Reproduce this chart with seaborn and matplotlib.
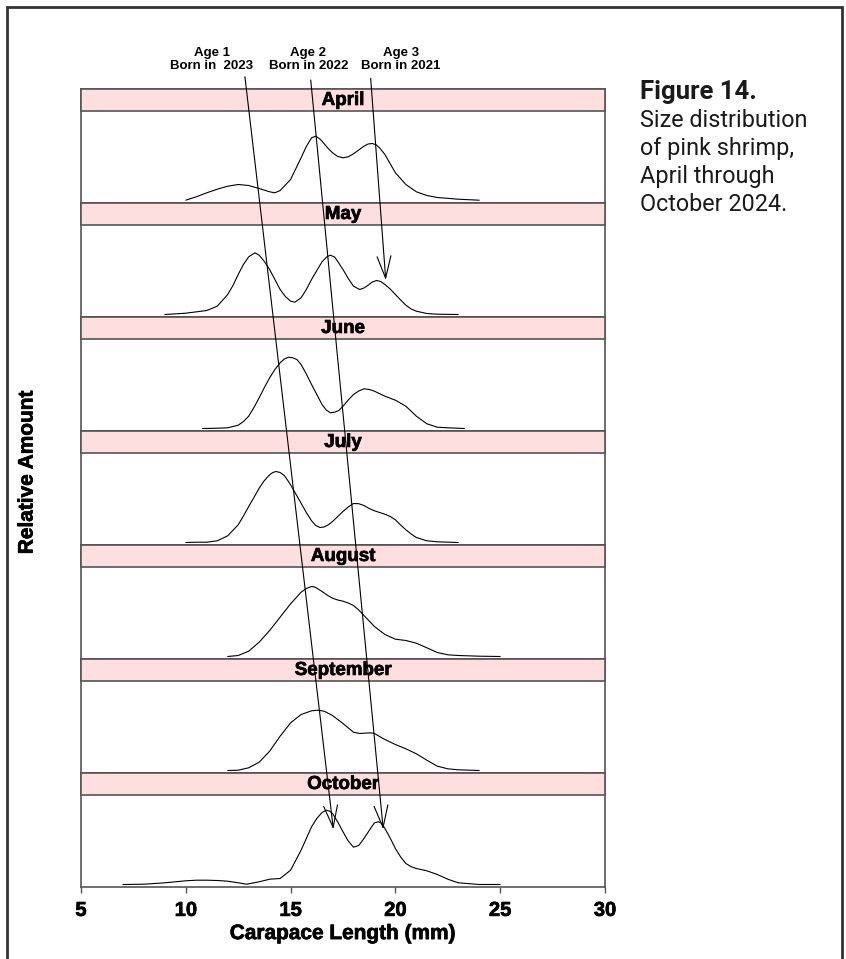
import matplotlib
matplotlib.use("Agg")
import matplotlib.pyplot as plt
import matplotlib.patheffects as pe
from matplotlib.patches import Rectangle
import pandas as pd
import seaborn as sns

# ---- data: carapace length (mm) and relative amount, by month ----
months = ["April", "May", "June", "July", "August", "September", "October"]

april_len = [10, 10.5, 11, 11.5, 12, 12.5, 13, 13.5, 14, 14.25, 14.5, 15, 15.5, 15.75, 16, 16.2,
             16.4, 16.5, 16.75, 17, 17.25, 17.5, 17.75, 18, 18.5, 18.7, 18.9, 19.1, 19.25, 19.5,
             20, 20.5, 21, 21.5, 22, 23, 24]
april_amt = [0.3, 3.7, 7.7, 11.3, 14.3, 16, 15, 12, 8.7, 7.7, 10, 21, 42.7, 54, 62.7, 64.3,
             61.5, 59.3, 53, 47.7, 44, 42.7, 43.7, 46.7, 54.3, 56.5, 57, 55.5, 52.5, 46,
             27.7, 16, 8.7, 5, 3, 1.3, 0.3]

may_len = [9, 10, 11, 11.5, 12, 12.25, 12.5, 12.75, 13, 13.3, 13.5, 13.75, 14, 14.5, 14.75, 15,
           15.2, 15.5, 15.75, 16, 16.25, 16.5, 16.75, 16.9, 17.1, 17.25, 17.5, 17.75, 18, 18.3,
           18.5, 18.7, 18.9, 19.1, 19.3, 19.5, 19.75, 20, 20.25, 20.5, 20.75, 21, 21.5, 22, 23]
may_amt = [0, 1.3, 4, 8.3, 20, 29, 40, 50, 57.7, 61.7, 59.3, 53, 45, 25, 18, 13.3,
           12.3, 16.7, 25, 35, 44, 52.7, 58, 59.3, 57.5, 53, 45, 36, 28.3, 25,
           26.5, 29.3, 32.5, 34, 33, 30, 25.5, 20, 14.5, 9.3, 5.5, 3.3, 1, 0.3, 0]

june_len = [10.8, 11.5, 12, 12.5, 12.75, 13, 13.25, 13.5, 13.75, 14, 14.25, 14.5, 14.7, 14.9,
            15.1, 15.3, 15.5, 15.75, 16, 16.25, 16.5, 16.7, 16.9, 17.1, 17.3, 17.5, 17.75, 18,
            18.25, 18.5, 18.75, 19, 19.5, 20, 20.5, 21, 21.5, 22, 22.5, 23.3]
june_amt = [0, 0.3, 0.7, 3.3, 7, 12.3, 21, 30.7, 41, 50.7, 59, 65.7, 69.5, 71.3,
            70.7, 69, 64, 54.5, 44, 34, 24, 18.5, 15.7, 16.3, 18, 22.3, 28.5, 34,
            37.5, 39.7, 39, 37.3, 32.3, 28.3, 22.3, 12.3, 4.7, 1.3, 0.7, 0]

july_len = [10, 10.5, 11, 11.5, 12, 12.5, 12.75, 13, 13.25, 13.5, 13.75, 14, 14.15, 14.3, 14.5,
            14.7, 14.85, 15, 15.25, 15.5, 15.75, 16, 16.2, 16.4, 16.6, 16.8, 17, 17.25, 17.5,
            17.75, 18, 18.25, 18.5, 18.75, 19, 19.25, 19.5, 19.75, 20, 20.25, 20.5, 20.75, 21,
            21.5, 22, 23]
july_amt = [0, 0.3, 0.3, 1.7, 6.7, 17.7, 26.5, 36, 45, 54.3, 62, 67.7, 70, 71, 70,
            67, 62.5, 57.7, 48.5, 39.3, 30, 21.7, 17, 15, 15.5, 17.7, 21, 26, 31,
            35.5, 39, 38.8, 37, 34, 31.7, 30, 28.3, 26, 22.7, 17.5, 12.7, 8.5, 5,
            1.7, 0.7, 0]

august_len = [12, 12.5, 13, 13.5, 14, 14.5, 15, 15.5, 15.75, 16, 16.15, 16.3, 16.5, 16.75, 17,
              17.25, 17.5, 17.75, 18, 18.25, 18.5, 19, 19.5, 20, 20.5, 21, 21.5, 22, 22.5, 23,
              24, 25]
august_amt = [0, 1, 5.3, 14.3, 26, 39.3, 52.7, 64.3, 68, 70, 69.5, 67.7, 65, 61.3, 58.3,
              56.5, 55.3, 53.5, 51, 46.5, 41, 30, 22, 17.3, 16, 13.3, 8.7, 4, 1.7, 1,
              0.3, 0]

september_len = [12, 12.5, 13, 13.5, 14, 14.5, 15, 15.5, 16, 16.3, 16.6, 17, 17.5, 18, 18.3,
                 18.8, 19, 19.5, 20, 20.5, 21, 21.5, 22, 22.5, 23, 24]
september_amt = [0, 0.3, 2.7, 8.3, 19.3, 34.3, 47.7, 56, 59.7, 60.3, 59.3, 55, 47, 38.3, 37,
                 37.7, 37, 31, 26, 21.7, 16.7, 10.3, 4.3, 1.7, 0.7, 0]

october_len = [7, 8, 9, 10, 10.5, 11, 11.5, 12, 12.5, 12.9, 13.5, 14, 14.5, 15, 15.5, 16, 16.25,
               16.5, 16.7, 16.85, 17, 17.25, 17.5, 17.75, 18, 18.25, 18.5, 18.75, 19, 19.2,
               19.35, 19.5, 19.75, 20, 20.25, 20.5, 20.75, 21, 21.5, 22, 22.5, 23, 24, 25]
october_amt = [0, 0.3, 1.7, 3.7, 4.3, 4.3, 4, 3.3, 1.7, 0.3, 2.7, 5.3, 6, 14.3, 34.3, 57.7, 66,
               72, 74.3, 73.5, 71, 62.5, 52.7, 43.5, 37.3, 39, 46, 54, 61.7, 62.7,
               61, 56, 46.5, 36, 27.5, 21, 17.8, 16, 13.7, 10, 5.3, 1.7, 0, 0]

lengths = [april_len, may_len, june_len, july_len, august_len, september_len, october_len]
amounts = [april_amt, may_amt, june_amt, july_amt, august_amt, september_amt, october_amt]

# year-class tracking arrows: label, start (length, height above top panel), tip (length, height), target month
age_labels = ["Age 1\nBorn in  2023", "Age 2\nBorn in 2022", "Age 3\nBorn in 2021"]
age_label_x = [11.24, 15.85, 20.25]
age_start_x = [12.82, 15.96, 18.82]
age_start_y = [123.8, 120.5, 122.2]
age_tip_x = [17.04, 19.42, 19.54]
age_tip_y = [55.2, 55.2, 34.5]
age_tip_month = ["October", "October", "May"]

xticks = [5, 10, 15, 20, 25, 30]

df = pd.concat(
    [pd.DataFrame({"month": m, "length": x, "amount": y})
     for m, x, y in zip(months, lengths, amounts)],
    ignore_index=True,
)

# ---- styling ----
sns.set_style("ticks")
plt.rcParams["font.family"] = ["Liberation Sans", "DejaVu Sans"]
plt.rcParams["text.color"] = "black"
plt.rcParams["axes.labelcolor"] = "black"
plt.rcParams["xtick.color"] = "black"

W, H = 846, 959
STRIP = 22 / 114          # strip height as a fraction of each panel
YLIM = (-2.5, 111.5)
PINK = "#FFDEE0"
FRAME = "#555555"
HEAVY = [pe.withStroke(linewidth=0.5, foreground="black")]

g = sns.FacetGrid(df, row="month", row_order=months, height=1.14, aspect=524 / 114,
                  sharex=True, sharey=True, despine=False)
g.map_dataframe(sns.lineplot, x="length", y="amount", color="black",
                linewidth=0.8, estimator=None, sort=False)
g.set_titles("")
g.set(xlim=(5, 30), ylim=YLIM)
g.set_axis_labels("", "")

fig = g.figure
fig.set_size_inches(W / 100, H / 100)
fig.set_dpi(100)

axes = g.axes.flat
ax_by_month = {}
for ax, m in zip(axes, months):
    ax_by_month[m] = ax
    ax.set_yticks([])
    for sp in ax.spines.values():
        sp.set_color(FRAME)
        sp.set_linewidth(1.2)
    ax.add_patch(Rectangle((0, 1 - STRIP), 1, STRIP, transform=ax.transAxes,
                           facecolor=PINK, edgecolor=FRAME, linewidth=1.2,
                           clip_on=False, zorder=3))
    ax.text(0.5, 1 - STRIP / 2 - 0.004, m, transform=ax.transAxes, ha="center", va="center",
            fontsize=13.5, fontweight="bold", color="black", zorder=4, path_effects=HEAVY)
    ax.tick_params(axis="x", bottom=False, labelbottom=False)

bottom = ax_by_month["October"]
bottom.set_xticks(xticks)
bottom.tick_params(axis="x", bottom=True, labelbottom=True, direction="out",
                   length=4.5, width=1, color=FRAME, labelcolor="black", labelsize=14.5, pad=5.5)
for lbl in bottom.get_xticklabels():
    lbl.set_fontweight("bold")
    lbl.set_path_effects(HEAVY)
bottom.set_xlabel("Carapace Length (mm)", fontsize=15, fontweight="bold", labelpad=3,
                  path_effects=HEAVY)

# year-class labels and arrows
top = ax_by_month["April"]
for lab, lx, sx, sy, tx, ty, tm in zip(age_labels, age_label_x, age_start_x, age_start_y,
                                       age_tip_x, age_tip_y, age_tip_month):
    top.text(lx, 141, lab, ha="center", va="center", fontsize=9.5, fontweight="bold",
             linespacing=1.15, clip_on=False)
    ax_by_month[tm].annotate(
        "", xy=(tx, ty), xycoords="data", xytext=(sx, sy), textcoords=top.transData,
        annotation_clip=False,
        arrowprops=dict(arrowstyle="->,head_length=15.8,head_width=5", mutation_scale=1,
                        color="black", linewidth=0.8, shrinkA=0, shrinkB=0),
    )

fig.subplots_adjust(left=81 / W, right=605 / W, top=1 - 89 / H, bottom=1 - 887 / H, hspace=0)

fig.text(27 / W, 1 - 472 / H, "Relative Amount", rotation=90, ha="center", va="center",
         fontsize=15, fontweight="bold", path_effects=HEAVY)

# caption
cap_x = 640 / W
fig.text(cap_x, 1 - 99 / H, "Figure 14.", fontfamily="Roboto", fontweight="bold",
         fontsize=18.5, color="#1a1a1a", va="baseline")
for i, line in enumerate(["Size distribution", "of pink shrimp,", "April through", "October 2024."]):
    fig.text(cap_x, 1 - (127 + 28 * i) / H, line, fontfamily="Roboto", fontsize=16.8,
             color="#1a1a1a", va="baseline")

# outer frame
fig.add_artist(Rectangle((7 / W, -0.1), (842 - 7) / W, 0.1 + (H - 7) / H,
                         transform=fig.transFigure, facecolor="none",
                         edgecolor="#333333", linewidth=2))

fig.savefig("out.png", dpi=100)
